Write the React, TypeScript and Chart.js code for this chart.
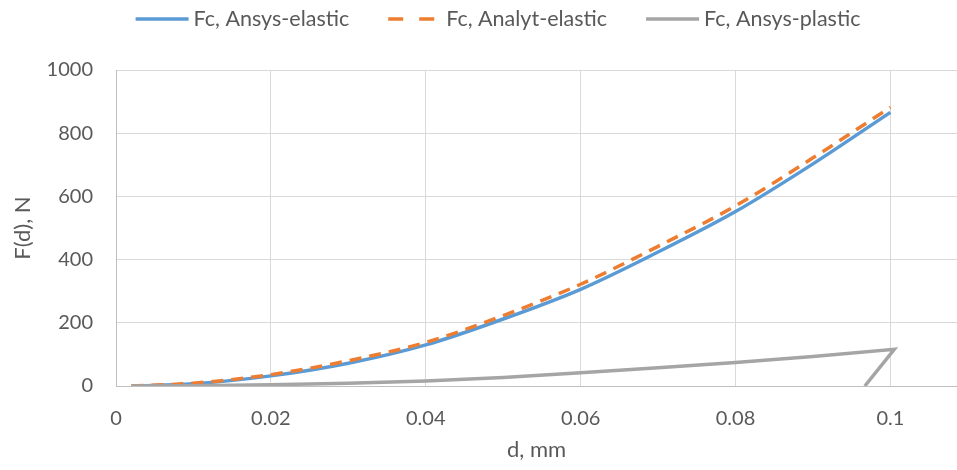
import React, { useEffect, useRef } from "react";
import { Chart, registerables } from "chart.js";

Chart.register(...registerables);

// ---- data ----
const elasticD = [0.002, 0.01, 0.02, 0.03, 0.04, 0.05, 0.06, 0.07, 0.08, 0.09, 0.1];
const ansysElastic = [0, 7, 32, 72, 130, 212, 306, 424, 552, 703, 866];
const analytElastic = [0, 9, 36, 80, 138, 223, 322, 442, 570, 722, 882];
const plasticD = [0.002, 0.01, 0.02, 0.03, 0.04, 0.05, 0.06, 0.07, 0.08, 0.09, 0.1005, 0.0967];
const ansysPlastic = [0, 1, 4, 9, 16, 27, 42, 58, 74, 93, 116, 0];
const xTicks = [0, 0.02, 0.04, 0.06, 0.08, 0.1];
const yTicks = [0, 200, 400, 600, 800, 1000];
const seriesNames = ["Fc, Ansys-elastic", "Fc, Analyt-elastic", "Fc, Ansys-plastic"];

const FONT = "Lato, 'Open Sans', sans-serif";
const TXT = "#595959";

const legendPlugin = {
  id: "customLegend",
  afterDraw(chart: any) {
    const ctx = chart.ctx;
    const ds = chart.data.datasets;
    ctx.save();
    ctx.font = `21.5px ${FONT}`;
    const lineLen = 53, gap = 5, itemGap = 39;
    const widths = ds.map((d: any) => lineLen + gap + ctx.measureText(d.label).width);
    const total = widths.reduce((a: number, b: number) => a + b, 0) + itemGap * (ds.length - 1);
    let x = 498 - total / 2;
    const y = 19;
    ds.forEach((d: any, i: number) => {
      ctx.beginPath();
      ctx.strokeStyle = d.borderColor;
      ctx.lineWidth = 3.5;
      ctx.lineCap = "butt";
      if (d.borderDash && d.borderDash.length) ctx.setLineDash([15, 16]);
      else ctx.setLineDash([]);
      ctx.moveTo(x, y);
      ctx.lineTo(x + lineLen, y);
      ctx.stroke();
      ctx.setLineDash([]);
      ctx.fillStyle = TXT;
      ctx.textBaseline = "middle";
      ctx.textAlign = "left";
      ctx.fillText(d.label, x + lineLen + gap, y);
      x += widths[i] + itemGap;
    });
    ctx.restore();
  },
};

export default function App() {
  const ref = useRef<HTMLCanvasElement>(null);
  useEffect(() => {
    if (!ref.current) return;
    const toPts = (xs: number[], ys: number[]) => xs.map((x, i) => ({ x, y: ys[i] }));
    const chart = new Chart(ref.current, {
      type: "line",
      data: {
        datasets: [
          {
            label: seriesNames[0],
            data: toPts(elasticD, ansysElastic),
            borderColor: "#5B9BD5",
            backgroundColor: "#5B9BD5",
            borderWidth: 3.5,
            pointRadius: 0,
            cubicInterpolationMode: "monotone",
            order: 3,
          },
          {
            label: seriesNames[1],
            data: toPts(elasticD, analytElastic),
            borderColor: "#ED7D31",
            backgroundColor: "#ED7D31",
            borderWidth: 3.5,
            borderDash: [12, 8],
            pointRadius: 0,
            cubicInterpolationMode: "monotone",
            order: 2,
          },
          {
            label: seriesNames[2],
            data: toPts(plasticD, ansysPlastic),
            borderColor: "#A5A5A5",
            backgroundColor: "#A5A5A5",
            borderWidth: 3.5,
            pointRadius: 0,
            tension: 0,
            order: 1,
          },
        ],
      },
      options: {
        animation: false,
        responsive: false,
        events: [],
        layout: { padding: { top: 70, right: 0, bottom: 0, left: 0 } },
        plugins: { legend: { display: false }, tooltip: { enabled: false } },
        scales: {
          x: {
            type: "linear",
            min: 0,
            max: 0.1086,
            afterBuildTicks: (s: any) => {
              s.ticks = xTicks.map((v) => ({ value: v }));
            },
            afterFit: (s: any) => {
              s.height = 84;
            },
            grid: { color: "#d9d9d9", drawTicks: false, lineWidth: 1 },
            border: { color: "#bfbfbf" },
            ticks: {
              color: TXT,
              font: { family: FONT, size: 20 },
              padding: 21,
              maxRotation: 0,
              callback: (v: any) => String(+Number(v).toFixed(2)),
            },
            title: {
              display: true,
              text: "d, mm",
              color: TXT,
              font: { family: FONT, size: 22 },
              padding: { top: 0, bottom: 7 },
            },
          },
          y: {
            type: "linear",
            min: 0,
            max: 1000,
            afterBuildTicks: (s: any) => {
              s.ticks = yTicks.map((v) => ({ value: v }));
            },
            afterFit: (s: any) => {
              s.width = 116;
            },
            grid: { color: "#d9d9d9", drawTicks: false, lineWidth: 1 },
            border: { color: "#bfbfbf" },
            ticks: {
              color: TXT,
              font: { family: FONT, size: 20 },
              padding: 23,
              callback: (v: any) => String(v),
            },
            title: {
              display: true,
              text: "F(d), N",
              color: TXT,
              font: { family: FONT, size: 22 },
              padding: { top: 10, bottom: 0 },
            },
          },
        },
      },
      plugins: [legendPlugin],
    } as any);
    return () => chart.destroy();
  }, []);
  return (
    <div style={{ position: "fixed", left: 0, top: 0, width: 957, height: 470, background: "#fff" }}>
      <canvas ref={ref} width={957} height={470} />
    </div>
  );
}
